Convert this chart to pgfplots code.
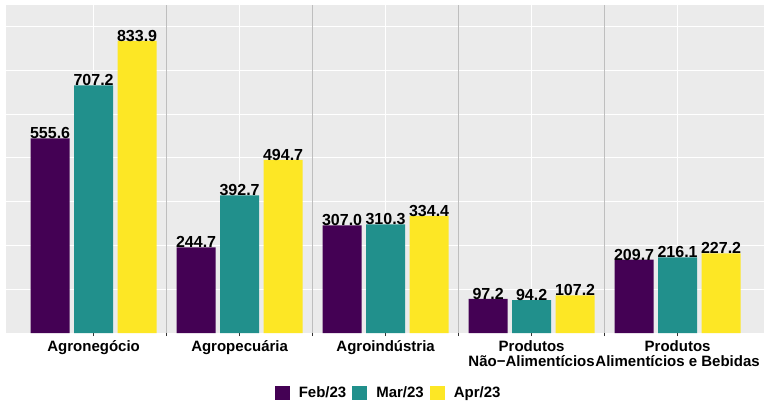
\documentclass[border=0pt]{standalone}
\usepackage{fontspec}
\setmainfont{Liberation Sans}
\usepackage{pgfplots}
\pgfplotsset{compat=1.18}
\definecolor{cFeb}{HTML}{440154}
\definecolor{cMar}{HTML}{21908C}
\definecolor{cApr}{HTML}{FDE725}
\definecolor{panel}{HTML}{EBEBEB}
\definecolor{sepgrey}{HTML}{BEBEBE}
\pgfplotsset{sqleg/.style={legend image code/.code={\fill[##1] (0pt,-7pt) rectangle (15pt,7pt);}}}
\begin{document}
\begin{tikzpicture}[x=1pt,y=1pt]
\path[use as bounding box] (0,0) rectangle (764,400);
\begin{axis}[
  at={(6pt,67pt)}, anchor=south west,
  scale only axis, width=759.2pt, height=328pt,
  xmin=-0.6, xmax=4.6, ymin=0, ymax=936.6,
  axis background/.style={fill=panel},
  axis line style={draw=none},
  ybar, bar width=39pt,
  xtick={0,1,2,3,4},
  xtick pos=bottom, ytick pos=left,
  xticklabels={Agronegócio, Agropecuária, Agroindústria, {Produtos\\Não−Alimentícios}, {Produtos\\Alimentícios e Bebidas}},
  xticklabel style={align=center, font=\bfseries\fontsize{15}{15}\selectfont, inner sep=0pt, yshift=-4pt, anchor=north},
  tick align=outside, major tick length=3pt,
  xtick style={draw=black!80, line width=0.75pt},
  ytick={0,125,...,875}, yticklabels={}, ytick style={draw=none},
  xmajorgrids, ymajorgrids,
  major grid style={draw=white, line width=1pt},
  extra x ticks={0.5,1.5,2.5,3.5}, extra x tick labels={},
  extra x tick style={grid=major, major grid style={draw=sepgrey, line width=1.1pt}, tick style={draw=none}},
  nodes near coords={\pgfmathprintnumber[fixed,fixed zerofill,precision=1,assume math mode=true]{\pgfplotspointmeta}},
  nodes near coords style={font=\bfseries\fontsize{16}{16}\selectfont, anchor=base, inner sep=0pt, yshift=-0.5pt, black},
  legend columns=3,
  legend style={at={(0.504,-0.182)}, anchor=center, draw=none, fill=none,
    font=\bfseries\fontsize{15}{15}\selectfont,
    /tikz/every odd column/.append style={column sep=7pt},
    /tikz/every even column/.append style={column sep=4pt}},
]
\addplot[fill=cFeb, draw=none, bar shift=-43.5pt, sqleg]
  coordinates {(0,555.6) (1,244.7) (2,307.0) (3,97.2) (4,209.7)};
\addlegendentry{Feb/23}
\addplot[fill=cMar, draw=none, bar shift=0pt, sqleg]
  coordinates {(0,707.2) (1,392.7) (2,310.3) (3,94.2) (4,216.1)};
\addlegendentry{Mar/23}
\addplot[fill=cApr, draw=none, bar shift=43.5pt, sqleg]
  coordinates {(0,833.9) (1,494.7) (2,334.4) (3,107.2) (4,227.2)};
\addlegendentry{Apr/23}
\end{axis}
\end{tikzpicture}
\end{document}
